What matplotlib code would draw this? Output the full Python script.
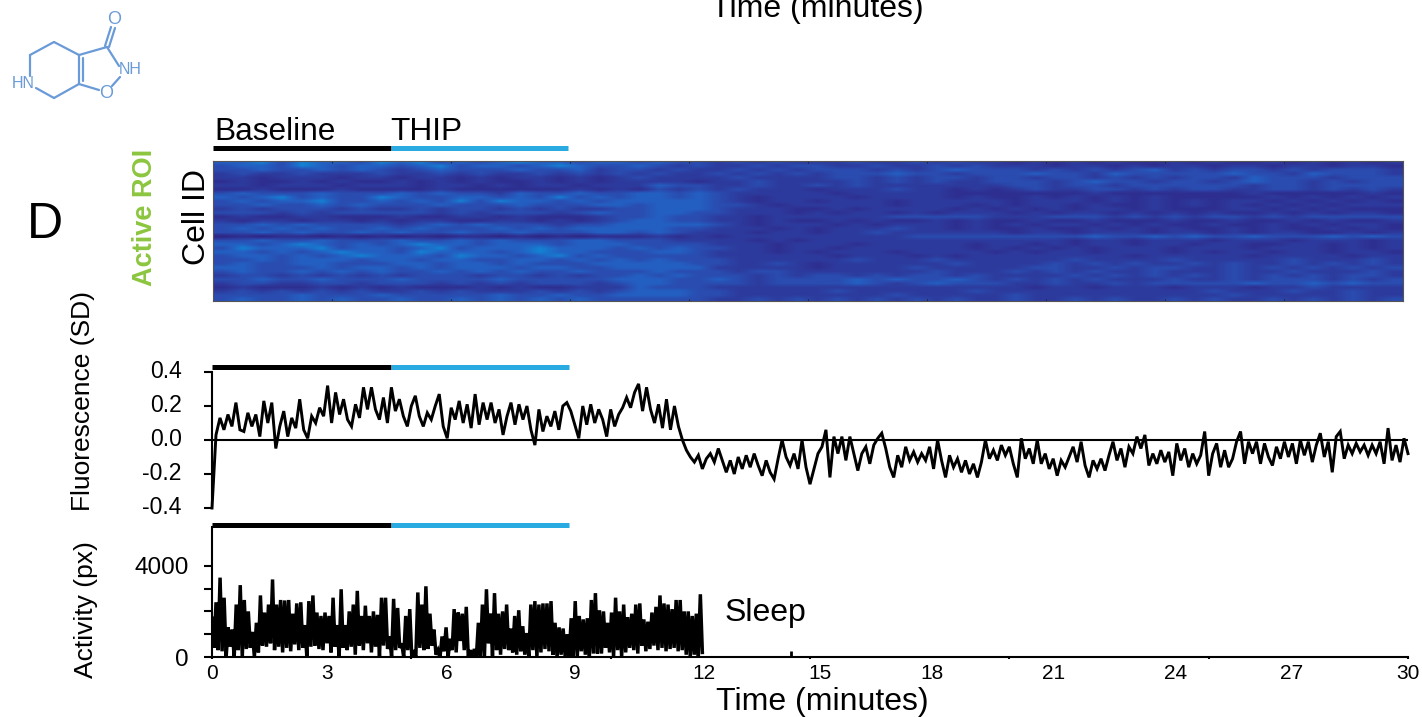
import matplotlib
matplotlib.use('Agg')
import matplotlib.pyplot as plt
from matplotlib.colors import LinearSegmentedColormap
from matplotlib.transforms import ScaledTranslation
import numpy as np

W, H = 1422, 717
plt.rcParams['font.family'] = ['Liberation Sans', 'DejaVu Sans']

# heatmap read by eye, one string per block of rows, 0 = darkest
heat_rows = [
    "4453544354 5343454434 4343323232 2232232322 1212121121 2112121212",
    "3443543443 4534434543 3432322323 3223223232 2212212122 1221221221",
    "3343343432 3433343342 3323223232 3332323433 3232323423 2332323332",
    "2322322232 2323223232 3232232323 2333433233 3433243333 3433243332",
    "2212221221 2212122121 2322223222 2332323323 3233232323 3243332333",
    "1211212112 1212112121 2222122322 2232323223 3323433233 2343323233",
    "2212221222 1221212212 2243322322 3232222222 3323323333 3323323333",
    "1121112111 1211111121 2132323222 1222322121 2322332323 3223323232",
    "3433343334 3433243343 3443432222 2122222111 1111211111 1121111121",
    "4345343354 3344343534 3443432122 2212222121 1212121211 1112121212",
    "3434453343 4353544343 4444432122 1222122222 1222121212 1221212121",
    "3343343433 3433343334 4344433212 2222122212 1221211212 1212121222",
    "2323332322 3233232322 3344432221 1212222121 2121221211 1221212111",
    "3332323333 3232333234 3344332221 2122121222 1212212121 2112121221",
    "1211221112 1122121112 3343322122 2222333332 2233323232 3323233333",
    "2122122121 2211221212 3443322121 1212112121 1211211121 1211212112",
    "3343433332 3434333233 4444432122 2121222121 2122121211 2112121221",
    "3434343343 4333434344 4443322212 1222322121 1211212121 1212112121",
    "3343433434 3343343334 4343222122 1223222222 1221222122 1212211212",
    "0101101010 1011010101 1121212222 2222233333 3333433434 3343334343",
    "3343343334 3343433344 3332222121 2222222222 2221221222 1222122212",
    "4434543434 5443444344 4333322212 2212222212 2121221221 2211221212",
    "3544453443 4534445444 3434332212 2122222212 1212122212 2212221212",
    "4434345443 5444345443 3344322212 1222122221 2122122212 1221221221",
    "3443434544 4354434534 3333322222 2122212122 2222221222 2212222122",
    "3343444344 3443344343 4343332222 2232223222 2223222232 2222322232",
    "3433443334 4344343334 4444332232 1222222322 2232323223 2322323232",
    "4433343443 4344434433 4444422222 1222232222 2332232332 2323232323",
    "3433434343 3434343343 3343332332 2222223222 3232322322 2322322232",
    "2332323232 3332332323 3434333232 3323233232 2223232323 2323232332",
    "3343343334 3333433333 4443343233 3343433432 3232322232 2323332323",
    "2332233233 3232323332 3443333233 3343234333 2232232333 3343343433",
    "1211121212 1112121122 2433322222 2222222222 2122122212 2212232222",
    "2323232322 3232223232 3444332222 2322222232 2222222222 3222322322",
    "3333433343 3333433433 4444332222 2222322222 3222222222 2322222322",
    "3433434334 3343434343 3333322323 2323232322 3223232232 3223232323",
]
heat_colors = ['#2c2684', '#2e2f90', '#2d3b9e', '#2a4cb0', '#2360c2',
               '#1482d2', '#14a5be', '#46b98c', '#beb955', '#f5dc28']

# fluorescence in 0.01 SD
fluor = [
    -40, 3, 13, 6, 15, 8, 22, 6, 5, 16, 8, 15, 2, 23, 10, 22, -5, 8, 17, 2, 13, 7, 24, 6, 1,
    14, 10, 19, 14, 32, 10, 28, 15, 24, 12, 8, 21, 13, 31, 18, 31, 18, 12, 25, 10, 31, 17, 24,
    14, 8, 20, 26, 14, 8, 16, 12, 20, 27, 8, 1, 19,
    12, 23, 10, 21, 7, 27, 9, 22, 12, 22, 10, 18, 3, 14, 22, 9, 21, 12, 20, 6, -3, 18, 5, 14,
    8, 17, 6, 20, 22, 17, 9, 1, 20, 9, 21, 10, 18, 12, 2, 18, 8, 15, 19, 25, 19, 28, 33, 17,
    31, 18, 10, 21, 7, 24, 6, 20, 8, 0, -6, -10, -13, -9, -17, -11,
    -8, -13, -5, -12, -19, -12, -20, -10, -17, -9, -16, -8, -15, -21, -12, -19, -23, -11, 0,
    -10, -15, -8, -17, 0, -16, -26, -17, -8, -4, 6, -22, 2, -8, 2, -12, 2, -8, -18, -8, -4,
    -14, -3, 1, 4, -5, -16, -22, -9, -16, -4, -12, -7, -13, -8, -12, -4, -17, 0, -12, -22, -9,
    -16, -11, -19, -12, -20, -14, -22, -13, 0, -11, -6, -12, -3, -9, -4, -14, -22, 1, -11, -5,
    -14, 0, -14, -8, -17, -11, -21, -12, -16, -10, -4, -13, -1, -15, -22, -12, -17, -11, -18,
    -9, -1, -12, -5, -16, -4, -8, 2, -5, 3, -15, -8, -14, -6, -13, -7, -21, -2, -12, -5, -16,
    -8, -14, -9, 5, -21, -8, -2, -16, -6, -16, -11, -1, 5, -14, -1, -8, -1, -14, -2, -10, -15,
    -4, -11, -1, -10, -2, -14, 0, -9, -1, -13, -3, 4, -10, -1, -19, 2, 5, -11, -3, -8, -2, -7,
    -3, -9, -3, -8, -1, -14, 7, -12, -3, -13, 1, -8,
]

# activity peaks and troughs, px
act_high = [
    1700, 2400, 3480, 2600, 1300, 1200, 2300, 3150, 2500, 2000, 1100, 1500, 2700, 1950, 2300, 3400,
    2300, 2500, 2480, 2500, 1900, 2350, 2400, 1400, 2450, 2700, 1950, 1800, 1950, 1800, 2600, 1400,
    2970, 1400, 2000, 2300, 2900, 1800, 2250, 1800, 2000, 1850, 2600, 2600, 900, 2550, 2150, 600,
    1800, 2100, 300, 2830, 2300, 3100, 1900, 1200, 300, 900, 1300, 800, 2100,
    1950, 1900, 2200, 300, 350, 1500, 2300, 2970, 1900, 2800, 1900, 2000, 2300, 1250, 1800, 2050,
    1350, 1050, 2300, 2450, 2300, 2350, 2350, 2450, 1500, 1300, 1250, 1000, 1700, 2450, 1800, 1650,
    1700, 2500, 2800, 2050, 2000, 1500, 1950, 2600, 2000, 2300, 1750, 1900, 2300, 2350, 1650, 1550,
    1950, 2200, 2700, 2350, 2300, 2100, 2500, 2500, 2000, 2000, 1800, 1900, 2750,
]
act_low = [
    400, 300, 250, 0, 450, 0, 300, 0, 350, 400, 0, 200, 500, 450, 600, 300, 450, 200, 400, 250,
    550, 300, 400, 0, 450, 500, 350, 300, 600, 200, 450, 0, 400, 300, 450, 100, 500, 300, 600, 200,
    450, 0, 500, 350, 0, 300, 400, 0, 300, 0, 0, 400, 300, 350, 500, 100, 0, 250, 0, 300, 200,
    700, 300, 0, 0, 0, 0, 0, 600, 50, 300, 100, 350, 300, 200, 100, 250, 100, 0, 300, 0,
    200, 350, 250, 100, 0, 100, 50, 0, 0, 0, 250, 100, 50, 150, 150, 150, 400, 200, 0, 300,
    0, 200, 400, 300, 150, 500, 250, 350, 500, 300, 400, 250, 350, 400, 250, 300, 100, 0, 100, 50,
    200,
]
blip_time = [14.52]
blip_value = [250]

x_tick_pos = [0, 5, 10, 15, 20, 25, 30]
x_label_pos = [0, 2.88, 5.9, 9.1, 12.33, 15.25, 18.06, 21.1, 24.18, 27.08, 30]
x_labels = ['0', '3', '6', '9', '12', '15', '18', '21', '24', '27', '30']
fluor_ticks = [-0.4, -0.2, 0.0, 0.2, 0.4]
fluor_tick_labels = ['-0.4', '-0.2', '0.0', '0.2', '0.4']
act_ticks = [0, 1000, 2000, 3000, 4000]
act_tick_labels = ['0', '', '', '', '4000']
baseline_span = [0, 4.49]
thip_span = [4.49, 8.96]

def px_axes(fig, x0, top, x1, bottom):
    return fig.add_axes([x0/W, 1-bottom/H, (x1-x0)/W, (bottom-top)/H])

def period_bars(ax, y):
    tr = ax.get_xaxis_transform()
    ax.plot(baseline_span, [y, y], color='black', lw=3.6, transform=tr, clip_on=False, solid_capstyle='butt')
    ax.plot(thip_span, [y, y], color='#29abe2', lw=3.6, transform=tr, clip_on=False, solid_capstyle='butt')

fig = plt.figure(figsize=(W/100, H/100), dpi=100)

# heatmap
axH = px_axes(fig, 213, 161, 1403, 301)
heat = np.array([[int(c) for c in r.replace(' ', '')] for r in heat_rows])
cmap = LinearSegmentedColormap.from_list('par', heat_colors)
axH.imshow(heat, aspect='auto', extent=[0, 30, 0, 1], cmap=cmap, vmin=0, vmax=9, interpolation='bilinear')
axH.set_xticks(range(0, 31, 3))
axH.set_yticks([])
axH.tick_params(axis='x', top=True, bottom=True, direction='in', length=1.5, width=0.7, labelbottom=False, color='#222222')
for s in axH.spines.values():
    s.set_color('#555555')
    s.set_linewidth(0.8)
period_bars(axH, 1.093)

# fluorescence
axF = px_axes(fig, 212, 372, 1408, 508)
axF.plot(np.linspace(0, 30, len(fluor)), np.array(fluor)/100, color='black', lw=2.1, solid_joinstyle='miter', clip_on=False)
axF.axhline(0, color='black', lw=1.5)
axF.set_xlim(0, 30)
axF.set_ylim(-0.4, 0.4)
axF.set_xticks([])
axF.set_yticks(fluor_ticks)
axF.set_yticklabels(fluor_tick_labels, fontsize=16.5)
axF.tick_params(axis='y', length=5.8, width=1.5, pad=16)
lift = ScaledTranslation(0, 3/100, fig.dpi_scale_trans)
for lbl in axF.get_yticklabels():
    lbl.set_transform(lbl.get_transform() + lift)
for s in ['top', 'right', 'bottom']:
    axF.spines[s].set_visible(False)
axF.spines['left'].set_linewidth(1.5)
axF.patch.set_alpha(0)
period_bars(axF, 1.035)

# activity
axA = px_axes(fig, 212, 527, 1408, 657)
act = np.empty(len(act_high)*2)
act[0::2] = act_high
act[1::2] = act_low
axA.plot(np.linspace(0, 12.3, len(act)), act, color='black', lw=2.5, solid_joinstyle='miter')
axA.vlines(blip_time, 0, blip_value, color='black', lw=2)
axA.set_xlim(0, 30)
axA.set_ylim(0, 5700)
axA.set_xticks(x_tick_pos)
axA.set_xticklabels([])
axA.set_yticks(act_ticks)
axA.set_yticklabels(act_tick_labels, fontsize=17.5)
axA.tick_params(axis='y', length=5.8, width=1.5, pad=11)
axA.tick_params(axis='x', length=1.5, width=1.5)
for s in ['top', 'right']:
    axA.spines[s].set_visible(False)
axA.spines['left'].set_linewidth(1.5)
axA.spines['bottom'].set_linewidth(1.5)
axA.patch.set_alpha(0)
period_bars(axA, 1.015)
for p, lab in zip(x_label_pos, x_labels):
    axA.text(p, -0.13, lab, ha='center', va='center', fontsize=15, transform=axA.get_xaxis_transform())

# everything else is placed in figure pixels
ov = fig.add_axes([0, 0, 1, 1], zorder=5)
ov.set_xlim(0, W)
ov.set_ylim(H, 0)
ov.axis('off')
ov.text(817, 17, 'Time (minutes)', ha='center', va='baseline', fontsize=23, clip_on=False)
ov.text(822, 710, 'Time (minutes)', ha='center', va='baseline', fontsize=23)
ov.text(214, 140, 'Baseline', ha='left', va='baseline', fontsize=22.8)
ov.text(390, 140, 'THIP', ha='left', va='baseline', fontsize=22.8)
ov.text(45, 225, 'D', ha='center', va='center', fontsize=36)
ov.text(145, 217, 'Active ROI', rotation=90, ha='center', va='center', fontsize=19.5, fontweight='bold', color='#8cc63f')
ov.text(197, 217, 'Cell ID', rotation=90, ha='center', va='center', fontsize=23)
ov.text(83, 401, 'Fluorescence (SD)', rotation=90, ha='center', va='center', fontsize=19)
ov.text(86, 610, 'Activity (px)', rotation=90, ha='center', va='center', fontsize=19)
ov.text(725, 613, 'Sleep', ha='left', va='center', fontsize=23)

# THIP structure
mol = '#6a9bd8'
bonds = [((30, 76), (30, 55)), ((30, 55), (54, 42)), ((54, 42), (79, 55)), ((79, 55), (79, 84)),
         ((79, 84), (54, 98)), ((54, 98), (36, 88)), ((83, 58), (83, 81)), ((79, 55), (107, 47)),
         ((107, 47), (119, 66)), ((120, 77), (112, 86)), ((79, 84), (99, 90)),
         ((105, 46), (111, 27)), ((109, 47), (115, 28))]
for a, b in bonds:
    ov.plot([a[0], b[0]], [a[1], b[1]], color=mol, lw=1.6, solid_capstyle='round')
ov.text(23, 84, 'HN', color=mol, ha='center', va='center', fontsize=11.5)
ov.text(130, 70, 'NH', color=mol, ha='center', va='center', fontsize=11.5)
ov.text(106, 93, 'O', color=mol, ha='center', va='center', fontsize=13)
ov.text(114, 20, 'O', color=mol, ha='center', va='center', fontsize=13)

fig.savefig('out.png', dpi=100)
